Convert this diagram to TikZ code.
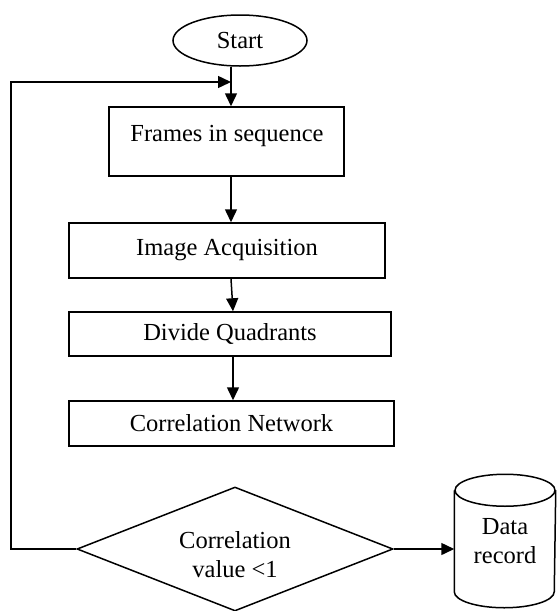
\documentclass[tikz,border=0pt]{standalone}
\usepackage{fontspec}
\setmainfont{Liberation Serif}
\usetikzlibrary{shapes.geometric,arrows.meta}
\begin{document}
\begin{tikzpicture}[x=1pt,y=-1pt, line width=1.5pt,
  every node/.style={font=\fontsize{24.5}{29}\selectfont},
  box/.style={draw, rectangle, inner sep=0pt},
  arr/.style={-{Triangle[length=13pt,width=12pt]}},
  txt/.style={inner sep=0pt, align=center},
]
\useasboundingbox (0,0) rectangle (557,611);
\node[draw, ellipse, minimum width=134pt, minimum height=51pt, inner sep=0pt] (start) at (240,40.5) {Start};
\node[box, minimum width=235pt, minimum height=69pt] (frames) at (226.5,141.5) {};
\node[txt] (framestxt) at (227,136) {Frames in sequence};
\node[box, minimum width=316pt, minimum height=55pt] (image) at (227,250.5) {Image Acquisition};
\node[box, minimum width=322pt, minimum height=44pt] (divide) at (230,334) {Divide Quadrants};
\node[box, minimum width=325pt, minimum height=45pt] (corr) at (231.5,423.5) {Correlation Network};
\node[draw, diamond, minimum width=316pt, minimum height=124pt, inner sep=0pt] (dec) at (235,549) {};
\node[txt] (dectxt) at (235,555) {Correlation\\value <1};
\node[txt, minimum width=100pt, minimum height=132pt] (db) at (505,541) {Data\\record};
% cylinder outline
\draw ([yshift=-16pt]db.north) ellipse [x radius=50pt, y radius=16pt];
\draw ([yshift=-16pt]db.north west) -- ([yshift=16pt]db.south west)
  arc[start angle=180, end angle=360, x radius=50pt, y radius=16pt]
  -- ([yshift=-16pt]db.north east);
% connectors
\coordinate (j) at (231,82);
\coordinate (k) at (233,0);
\coordinate (lb) at (11,549);
\coordinate (lt) at (11,82);
\draw[arr] (start.south -| j) -- (frames.north -| j);
\draw[arr] (dec.west) -- (lb) -- (lt) -- (j);
\draw[arr] (frames.south -| j) -- (image.north -| j);
\draw[arr] (image.south -| j) -- (divide.north -| k);
\draw[arr] (divide.south -| k) -- (corr.north -| k);
\draw[arr] (dec.east) -- (dec.east -| db.west);
\end{tikzpicture}
\end{document}
